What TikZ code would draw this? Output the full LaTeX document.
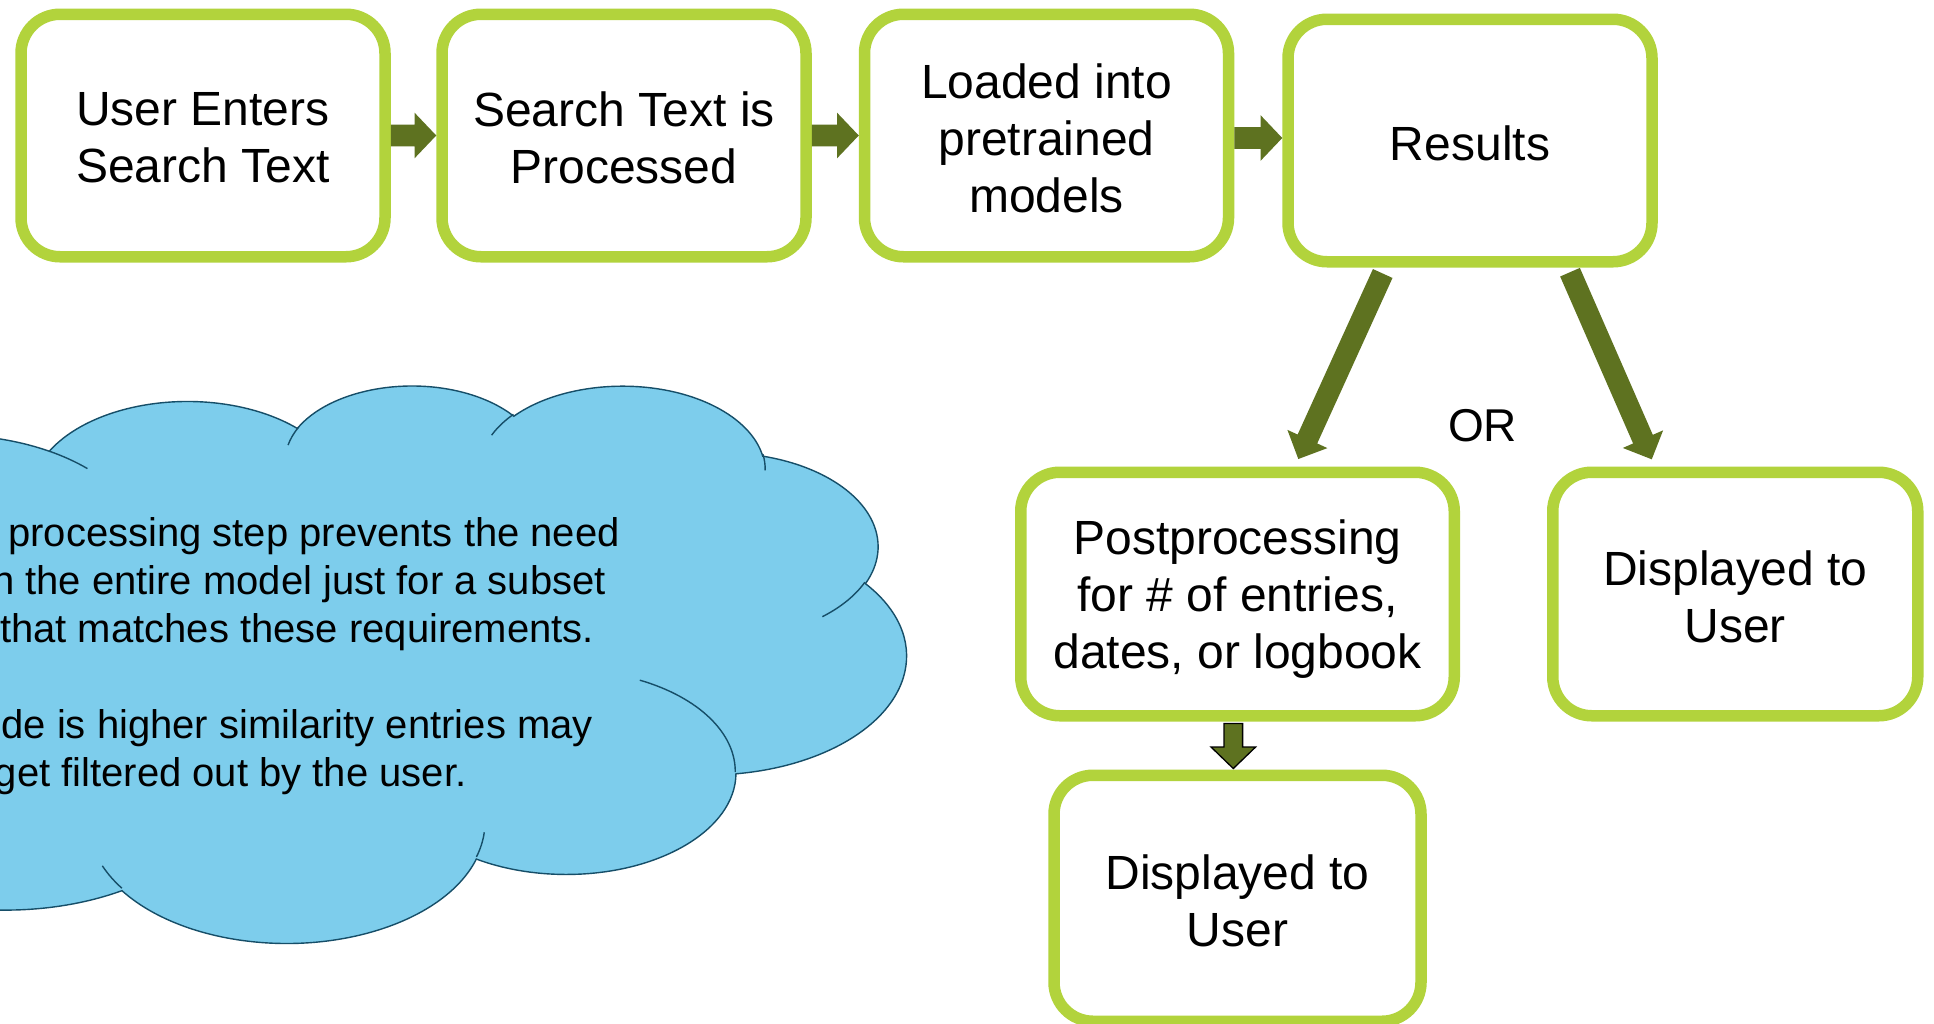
\documentclass[tikz,border=0pt]{standalone}
\usepackage{fontspec}
\setmainfont{Liberation Sans}
\usetikzlibrary{calc}
\definecolor{boxgreen}{RGB}{178,211,60}
\definecolor{arrowolive}{RGB}{94,114,32}
\definecolor{cloudblue}{RGB}{125,205,236}
\definecolor{cloudedge}{RGB}{22,78,104}
% block arrow polygon: [style]{start}{end}{half shaft}{half head}{head length}
\newcommand{\blockarrow}[6][]{%
  \coordinate (bah) at ($(#3)!#6!(#2)$);
  \path[#1] ($(#2)!#4!90:(#3)$) -- ($(bah)!#4!90:(#3)$) -- ($(bah)!#5!90:(#3)$)
    -- (#3) -- ($(bah)!#5!-90:(#3)$) -- ($(bah)!#4!-90:(#3)$) -- ($(#2)!#4!-90:(#3)$) -- cycle;
}
\begin{document}
\begin{tikzpicture}[x=1pt,y=-1pt,
  stepbox/.style={draw=boxgreen, line width=11.5pt, fill=white, rounded corners=39pt, inner sep=0pt},
  boxtext/.style={align=center, inner sep=0pt, font=\fontsize{48pt}{57pt}\selectfont},
  cloudshape/.style={fill=cloudblue, draw=cloudedge, line width=1.4pt},
  cloudline/.style={draw=cloudedge, line width=1.4pt},
  cloudtext/.style={anchor=base east, inner sep=0pt, font=\fontsize{40pt}{48pt}\selectfont},
  olivearrow/.style={fill=arrowolive},
  outlinedarrow/.style={fill=arrowolive, draw=black, line width=1.3pt}]
\useasboundingbox (0,0) rectangle (1934,1023);
\fill[white] (0,0) rectangle (1934,1023);

% ---------------- cloud ----------------
\begin{scope}
\clip (0,0) rectangle (1934,1023);
\begin{scope}[shift={(-361.6pt,-384.2pt)}, x=0.029343pt, y=-0.012898pt]
\path[cloudshape] (3900,14370)
 arc[start angle=-172.25, delta angle=-128.11, x radius=198.15pt, y radius=118.53pt]
 arc[start angle=152.02, delta angle=-106.60, x radius=156.49pt, y radius=93.73pt]
 arc[start angle=153.48, delta angle=-116.17, x radius=128.08pt, y radius=76.68pt]
 arc[start angle=139.69, delta angle=-129.48, x radius=142.52pt, y radius=85.06pt]
 arc[start angle=74.77, delta angle=-97.98, x radius=156.49pt, y radius=93.81pt]
 arc[start angle=37.53, delta angle=-119.39, x radius=198.80pt, y radius=118.92pt]
 arc[start angle=-0.46, delta angle=-121.52, x radius=169.75pt, y radius=101.47pt]
 arc[start angle=-16.84, delta angle=-129.41, x radius=198.12pt, y radius=118.86pt]
 arc[start angle=-58.98, delta angle=-91.22, x radius=226.53pt, y radius=135.98pt]
 arc[start angle=-83.31, delta angle=-139.80, x radius=127.94pt, y radius=76.33pt]
 arc[start angle=-120.36, delta angle=-143.75, x radius=127.50pt, y radius=76.68pt]
 -- cycle;
\draw[cloudline] (4693,26177) arc[start angle=-85.55, delta angle=-34.81, x radius=127.50pt, y radius=76.68pt];
\draw[cloudline] (6928,34899) arc[start angle=-68.24, delta angle=-15.07, x radius=127.94pt, y radius=76.33pt];
\draw[cloudline] (16478,39090) arc[start angle=-146.25, delta angle=-12.22, x radius=198.12pt, y radius=118.86pt];
\draw[cloudline] (28827,34751) arc[start angle=-4.74, delta angle=-12.10, x radius=198.12pt, y radius=118.86pt];
\draw[cloudline] (34129,22954) arc[start angle=64.03, delta angle=-64.49, x radius=169.75pt, y radius=101.47pt];
\draw[cloudline] (41798,15354) arc[start angle=-23.21, delta angle=-26.42, x radius=156.49pt, y radius=93.81pt];
\draw[cloudline] (38324,5426) arc[start angle=10.21, delta angle=-11.03, x radius=142.52pt, y radius=85.06pt];
\draw[cloudline] (29078,3952) arc[start angle=156.28, delta angle=-16.59, x radius=142.52pt, y radius=85.06pt];
\draw[cloudline] (22141,4720) arc[start angle=167.73, delta angle=-14.25, x radius=128.08pt, y radius=76.68pt];
\draw[cloudline] (14000,5192) arc[start angle=59.64, delta angle=-13.94, x radius=198.15pt, y radius=118.53pt];
\draw[cloudline] (4127,15789) arc[start angle=-163.20, delta angle=-9.05, x radius=198.15pt, y radius=118.53pt];
\end{scope}
\node[cloudtext] (c1) at (620,546) {processing step prevents the need};
\node[cloudtext] (c2) at (606,594.1) {n the entire model just for a subset};
\node[cloudtext] (c3) at (594,642.2) {that matches these requirements.};
\node[cloudtext] (c4) at (593,738.4) {de is higher similarity entries may};
\node[cloudtext] (c5) at (466.5,786.5) {get filtered out by the user.};
\end{scope}

% ---------------- boxes ----------------
\node[stepbox, minimum width=364pt, minimum height=242.5pt] (b1) at (203,135.5) {};
\node[stepbox, minimum width=364pt, minimum height=242.5pt] (b2) at (624,135.5) {};
\node[stepbox, minimum width=364pt, minimum height=242.5pt] (b3) at (1046.5,135.5) {};
\node[stepbox, minimum width=364pt, minimum height=242.5pt] (b4) at (1470,140.5) {};
\node[stepbox, minimum width=433.5pt, minimum height=243.5pt] (post) at (1237.5,594) {};
\node[stepbox, minimum width=365pt, minimum height=243.5pt] (disp) at (1735.25,594) {};
\node[stepbox, minimum width=367pt, minimum height=246pt] (b7) at (1237.5,898.25) {};

\node[boxtext] (t1) at ($(b1)+(0,2.5)$) {User Enters\\Search Text};
\node[boxtext] (t2) at ($(b2)+(0,2.5)$) {Search Text is\\Processed};
\node[boxtext] (t3) at ($(b3)+(0,2.5)$) {Loaded into\\pretrained\\models};
\node[boxtext] (t4) at ($(b4)+(0,2.5)$) {Results};
\node[boxtext] (tpost) at ($(post)+(0,5)$) {Postprocessing\\for \# of entries,\\dates, or logbook};
\node[boxtext] (tdisp) at ($(disp)+(0,2.5)$) {Displayed to\\User};
\node[boxtext] (t7) at ($(b7)+(0,2.5)$) {Displayed to\\User};

\node[anchor=base, inner sep=0pt, font=\fontsize{46pt}{55pt}\selectfont] (or) at (1482.5,441) {OR};

% ---------------- connectors ----------------
\blockarrow[olivearrow]{b1.east}{b2.west}{10.85pt}{22.8pt}{21.7pt}
\blockarrow[olivearrow]{b2.east}{b3.west}{10.85pt}{22.8pt}{21.7pt}
\coordinate (a3s) at ($(b3.east)+(0,2.5)$);
\coordinate (a3e) at (b4.west |- a3s);
\blockarrow[olivearrow]{a3s}{a3e}{10.85pt}{22.8pt}{21.7pt}

\coordinate (dls) at ($(b4.south)+(-87.3,6)$);
\coordinate (dle) at ($(post.north)+(60.8,-7.5)$);
\blockarrow[olivearrow]{dls}{dle}{10.75pt}{22pt}{22pt}
\coordinate (drs) at ($(b4.south)+(100,4.7)$);
\coordinate (dre) at ($(disp.north)+(-83.5,-7.2)$);
\blockarrow[olivearrow]{drs}{dre}{10.75pt}{22pt}{22pt}

\coordinate (dds) at ($(post.south)+(-4.2,2)$);
\coordinate (dde) at ($(b7.north)+(-4.2,-1)$);
\blockarrow[outlinedarrow]{dds}{dde}{9.3pt}{22.3pt}{21.5pt}
\end{tikzpicture}
\end{document}
